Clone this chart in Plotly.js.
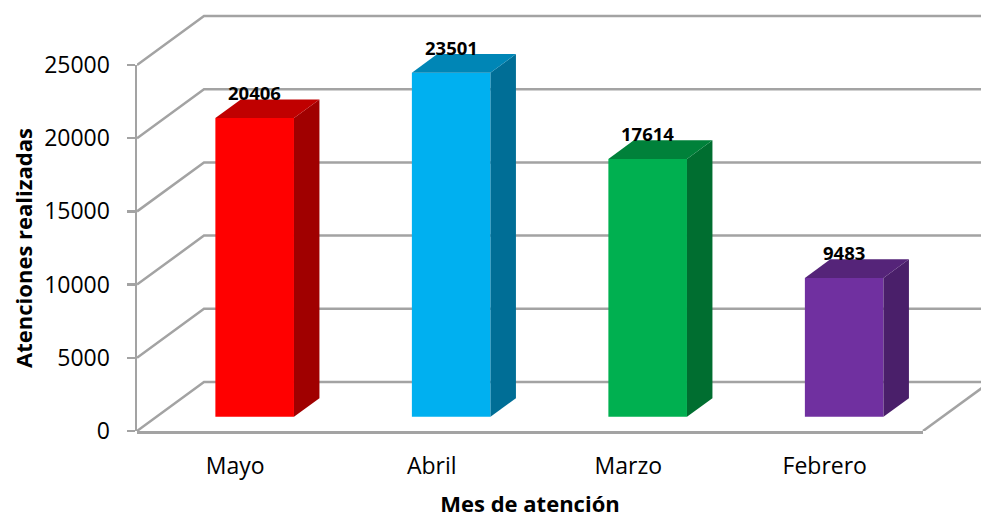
<!DOCTYPE html>
<html>
<head>
<meta charset="utf-8">
<script src="https://cdn.plot.ly/plotly-3.0.1.min.js"></script>
<style>html,body{margin:0;padding:0;background:#fff;}#chart{width:981px;height:518px;}</style>
</head>
<body>
<div id="chart"></div>
<script>
// ---- data ----
const categories = ['Mayo', 'Abril', 'Marzo', 'Febrero'];
const values = [20406, 23501, 17614, 9483];
const frontColors = ['#FF0000', '#00B0F0', '#00B050', '#7030A0'];
const topColors = ['#C00000', '#0086B6', '#00813A', '#552479'];
const sideColors = ['#A00000', '#006E96', '#006E30', '#4A1F6A'];
const yTickVals = [0, 5000, 10000, 15000, 20000, 25000];
const yTickText = ['0', '5000', '10000', '15000', '20000', '25000'];
const yTitle = 'Atenciones realizadas';
const xTitle = 'Mes de atención';

// ---- geometry (layout only) ----
const W = 981, H = 518;
const frontLeft = 137, frontRight = 923, frontZero = 431, frontTop = 65;
const nCat = categories.length;
const pxPerCat = (frontRight - frontLeft) / nCat;
const yMax = 25000;
const pxPerVal = (frontZero - frontTop) / yMax;
const depthPx = {x: 67, y: 49};
const kx = depthPx.x / pxPerCat;      // depth offset in category units
const ky = depthPx.y / pxPerVal;      // depth offset in value units
const barStart = 0.29;                 // bar front plane (fraction of depth)
const barDepth = 0.38;                 // bar depth (fraction of depth)
const barWidth = 0.4;
const xMin = -0.5, xMaxFront = nCat - 0.5;
const xMaxPlot = xMin + (W - frontLeft) / pxPerCat;
const yMaxPlot = frontZero / pxPerVal;
const gridColor = '#A3A3A3';
const FONT = '"Open Sans", Lato, sans-serif';

const traces = [];

// back wall gridlines + left diagonals
const gx = [], gy = [];
yTickVals.forEach(v => {
  gx.push(xMin, xMin + kx, xMaxFront + kx, null);
  gy.push(v, v + ky, v + ky, null);
});
// floor right diagonal
gx.push(xMaxFront, xMaxFront + kx);
gy.push(0, ky);
traces.push({type: 'scatter', mode: 'lines', x: gx, y: gy, xaxis: 'x', yaxis: 'y',
  line: {color: gridColor, width: 2.5}, hoverinfo: 'skip', showlegend: false, connectgaps: false});

// bars (front faces)
const xc = categories.map((c, i) => i + barStart * kx);
const base = values.map(() => barStart * ky);
traces.push({type: 'bar', x: xc, y: values, base: base, width: barWidth,
  xaxis: 'x2', yaxis: 'y2', marker: {color: frontColors, line: {width: 0}},
  hoverinfo: 'skip', showlegend: false});

// side and top faces
const dkx = barDepth * kx, dky = barDepth * ky;
values.forEach((v, i) => {
  const xl = xc[i] - barWidth / 2, xr = xc[i] + barWidth / 2;
  const b = base[i], t = base[i] + v;
  traces.push({type: 'scatter', mode: 'lines', fill: 'toself', xaxis: 'x2', yaxis: 'y2',
    x: [xr, xr + dkx, xr + dkx, xr, xr], y: [b, b + dky, t + dky, t, b],
    fillcolor: sideColors[i], line: {width: 0, color: sideColors[i]}, hoverinfo: 'skip', showlegend: false});
  traces.push({type: 'scatter', mode: 'lines', fill: 'toself', xaxis: 'x2', yaxis: 'y2',
    x: [xl, xr, xr + dkx, xl + dkx, xl], y: [t, t, t + dky, t + dky, t],
    fillcolor: topColors[i], line: {width: 0, color: topColors[i]}, hoverinfo: 'skip', showlegend: false});
});

// empty trace to hold the front value axis
traces.push({type: 'scatter', x: [], y: [], xaxis: 'x2', yaxis: 'y3', hoverinfo: 'skip', showlegend: false});

const annotations = values.map((v, i) => ({
  xref: 'x2', yref: 'y2', x: xc[i], y: base[i] + v + dky,
  text: String(v), showarrow: false, yanchor: 'middle', yshift: 7,
  font: {family: FONT, size: 18.5, color: '#000', weight: 'bold'}
}));

const layout = {
  width: W, height: H,
  margin: {l: 0, r: 0, t: 0, b: 0},
  paper_bgcolor: '#fff', plot_bgcolor: 'rgba(0,0,0,0)',
  showlegend: false,
  font: {family: FONT, color: '#000'},
  xaxis: {domain: [frontLeft / W, 1], range: [xMin, xMaxPlot], visible: false, anchor: 'y', fixedrange: true},
  yaxis: {domain: [(H - frontZero) / H, 1], range: [0, yMaxPlot], visible: false, anchor: 'x', fixedrange: true},
  xaxis2: {domain: [frontLeft / W, frontRight / W], range: [xMin, xMaxFront], anchor: 'y2',
    tickmode: 'array', tickvals: categories.map((c, i) => i), ticktext: categories,
    showline: true, linecolor: gridColor, linewidth: 2.5, ticks: '', showgrid: false, zeroline: false,
    tickfont: {family: FONT, size: 23, color: '#000'}, ticklabelstandoff: 13,
    title: {text: xTitle, font: {family: FONT, size: 22, color: '#000', weight: 'bold'}, standoff: 31},
    automargin: false, fixedrange: true},
  yaxis2: {domain: [(H - frontZero) / H, 1], range: [0, yMaxPlot], visible: false, anchor: 'x2', fixedrange: true},
  yaxis3: {domain: [(H - frontZero) / H, (H - frontTop) / H], range: [0, yMax], anchor: 'x2',
    tickmode: 'array', tickvals: yTickVals, ticktext: yTickText, showline: true, linecolor: gridColor, linewidth: 2.5,
    ticks: 'outside', ticklen: 8, tickwidth: 2.5, tickcolor: gridColor, showgrid: false, zeroline: false,
    tickfont: {family: FONT, size: 23, color: '#000'}, ticklabelstandoff: 12,
    title: {text: yTitle, font: {family: FONT, size: 22, color: '#000', weight: 'bold'}, standoff: 6},
    automargin: false, fixedrange: true},
  annotations: annotations
};

Plotly.newPlot('chart', traces, layout, {displayModeBar: false, staticPlot: true});
</script>
</body>
</html>
